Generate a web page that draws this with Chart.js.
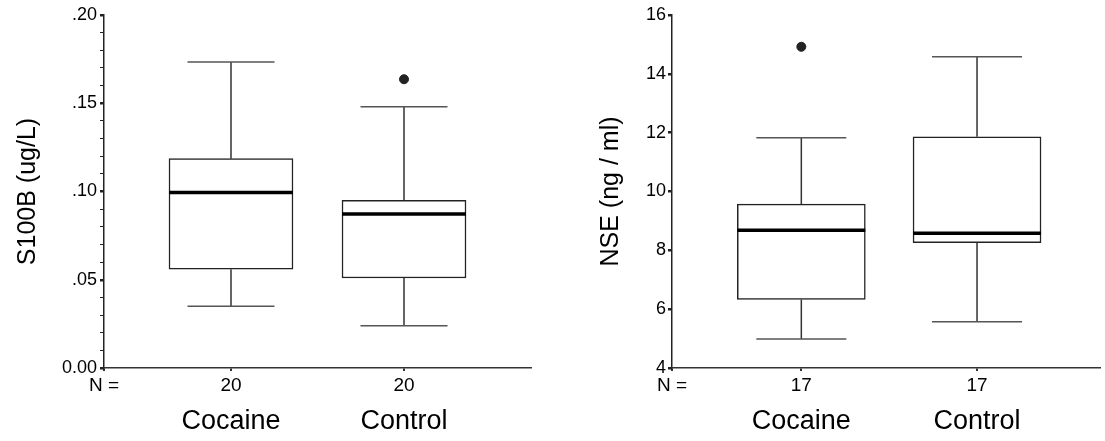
<!DOCTYPE html>
<html>
<head>
<meta charset="utf-8">
<script src="https://cdn.jsdelivr.net/npm/chart.js@4.4.0/dist/chart.umd.min.js"></script>
<style>
  body { margin: 0; background: #fff; overflow: hidden; }
  .panel { position: absolute; top: 0; height: 441px; }
  #leftPanel { left: 0; width: 552px; }
  #rightPanel { left: 552px; width: 553px; }
</style>
</head>
<body>
<div class="panel" id="leftPanel"><canvas id="s100bChart"></canvas></div>
<div class="panel" id="rightPanel"><canvas id="nseChart"></canvas></div>
<script>
const categories = ['Cocaine', 'Control'];

// S100B (ug/L)
const s100bN = [20, 20];
const s100bMin = [0.035, 0.024];
const s100bQ1 = [0.056, 0.051];
const s100bMedian = [0.0995, 0.0873];
const s100bQ3 = [0.1186, 0.095];
const s100bMax = [0.1734, 0.148];
const s100bOutliers = [[], [0.1636]];

// NSE (ng / ml)
const nseN = [17, 17];
const nseMin = [4.99, 5.57];
const nseQ1 = [6.33, 8.26];
const nseMedian = [8.68, 8.58];
const nseQ3 = [9.57, 11.86];
const nseMax = [11.83, 14.58];
const nseOutliers = [[14.92], []];

const FONT = 'Arial, "Liberation Sans", Helvetica, sans-serif';

// whiskers, caps and the median line, drawn on top of the floating bars
const boxParts = {
  id: 'boxParts',
  afterDatasetsDraw(chart, args, opts) {
    const ctx = chart.ctx;
    const x = chart.scales.x;
    const y = chart.scales.y;
    const bars = chart.getDatasetMeta(0).data;
    ctx.save();
    opts.median.forEach((m, i) => {
      const cx = x.getPixelForValue(i + 1);
      const half = bars[i].width / 2;
      const top = y.getPixelForValue(opts.q3[i]);
      const bot = y.getPixelForValue(opts.q1[i]);
      const hi = y.getPixelForValue(opts.max[i]);
      const lo = y.getPixelForValue(opts.min[i]);

      ctx.strokeStyle = '#333';
      ctx.lineWidth = 1.5;
      ctx.beginPath();
      ctx.moveTo(cx, top); ctx.lineTo(cx, hi);
      ctx.moveTo(cx, bot); ctx.lineTo(cx, lo);
      ctx.stroke();

      ctx.strokeStyle = '#555';
      ctx.beginPath();
      ctx.moveTo(cx - opts.capHalf, hi); ctx.lineTo(cx + opts.capHalf, hi);
      ctx.moveTo(cx - opts.capHalf, lo); ctx.lineTo(cx + opts.capHalf, lo);
      ctx.stroke();

      const my = y.getPixelForValue(m);
      ctx.strokeStyle = '#000';
      ctx.lineWidth = 3.5;
      ctx.beginPath();
      ctx.moveTo(cx - half, my); ctx.lineTo(cx + half, my);
      ctx.stroke();
    });
    ctx.restore();
  }
};

function makePanel(id, cfg) {
  const outlierPts = [];
  cfg.outliers.forEach((list, i) => list.forEach(v => outlierPts.push({ x: i + 1, y: v })));

  return new Chart(document.getElementById(id), {
    type: 'bar',
    data: {
      datasets: [{
        type: 'bar',
        data: cfg.q1.map((q, i) => ({ x: i + 1, y: [q, cfg.q3[i]] })),
        backgroundColor: '#fff',
        borderColor: '#222',
        borderWidth: 1.5,
        borderSkipped: false,
        barThickness: cfg.boxWidth
      }, {
        type: 'scatter',
        data: outlierPts,
        pointRadius: 4.5,
        pointBackgroundColor: '#222',
        pointBorderColor: '#222'
      }]
    },
    plugins: [boxParts],
    options: {
      responsive: true,
      maintainAspectRatio: false,
      animation: false,
      layout: { padding: { top: 15, left: 0, right: cfg.padRight, bottom: 0 } },
      plugins: {
        legend: { display: false },
        tooltip: { enabled: false },
        boxParts: {
          min: cfg.min, q1: cfg.q1, median: cfg.median, q3: cfg.q3, max: cfg.max,
          capHalf: cfg.capHalf
        }
      },
      scales: {
        x: {
          type: 'linear',
          position: 'bottom',
          offset: false,
          min: cfg.xMin,
          max: cfg.xMax,
          afterBuildTicks: s => { s.ticks = [{ value: cfg.xMin }, { value: 1 }, { value: 2 }]; },
          afterFit: s => { s.height = 34; },
          grid: { offset: false, drawOnChartArea: false, tickLength: 3, lineWidth: 2, color: '#333' },
          border: { color: '#333', width: 1.5 },
          ticks: {
            autoSkip: false, maxRotation: 0, padding: 3, color: '#000',
            font: { family: FONT, size: 19 },
            callback: v => v === cfg.xMin ? 'N =' : String(cfg.n[v - 1])
          }
        },
        x2: {
          type: 'linear',
          position: 'bottom',
          offset: false,
          min: cfg.xMin,
          max: cfg.xMax,
          afterBuildTicks: s => { s.ticks = [{ value: 1 }, { value: 2 }]; },
          afterFit: s => { s.height = 39; },
          grid: { display: false, drawTicks: false, offset: false },
          border: { display: false },
          ticks: {
            autoSkip: false, maxRotation: 0, padding: 3, color: '#000',
            font: { family: FONT, size: 27 },
            callback: v => categories[v - 1]
          }
        },
        y: {
          min: cfg.yMin,
          max: cfg.yMax,
          afterFit: s => { s.width = cfg.axisWidth; },
          border: { color: '#222', width: 1.5 },
          grid: {
            drawOnChartArea: false,
            tickLength: 4,
            color: '#222',
            lineWidth: c => cfg.isMajor(c.tick.value) ? 2.5 : 1
          },
          ticks: {
            stepSize: cfg.yStep,
            autoSkip: false,
            maxTicksLimit: 100,
            padding: cfg.tickPad,
            color: '#000',
            font: { family: FONT, size: 18 },
            callback: v => cfg.isMajor(v) ? cfg.fmt(v) : ''
          },
          title: {
            display: true,
            text: cfg.title,
            color: '#000',
            font: { family: FONT, size: 25 },
            padding: { top: cfg.titlePad, bottom: 0 }
          }
        }
      }
    }
  });
}

makePanel('s100bChart', {
  n: s100bN, min: s100bMin, q1: s100bQ1, median: s100bMedian, q3: s100bQ3, max: s100bMax,
  outliers: s100bOutliers,
  title: 'S100B (ug/L)',
  yMin: 0, yMax: 0.2, yStep: 0.01,
  isMajor: v => Math.abs(v * 20 - Math.round(v * 20)) < 1e-6,
  fmt: v => Math.abs(v) < 1e-9 ? '0.00' : v.toFixed(2).replace(/^0/, ''),
  xMin: 0.266, xMax: 2.734,
  axisWidth: 104, tickPad: 3, titlePad: 13, padRight: 21,
  boxWidth: 124, capHalf: 43.5
});

makePanel('nseChart', {
  n: nseN, min: nseMin, q1: nseQ1, median: nseMedian, q3: nseQ3, max: nseMax,
  outliers: nseOutliers,
  title: 'NSE (ng / ml)',
  yMin: 4, yMax: 16, yStep: 2,
  isMajor: v => true,
  fmt: v => String(v),
  xMin: 0.264, xMax: 2.697,
  axisWidth: 120, tickPad: 2, titlePad: 44, padRight: 0,
  boxWidth: 128, capHalf: 45
});
</script>
</body>
</html>
